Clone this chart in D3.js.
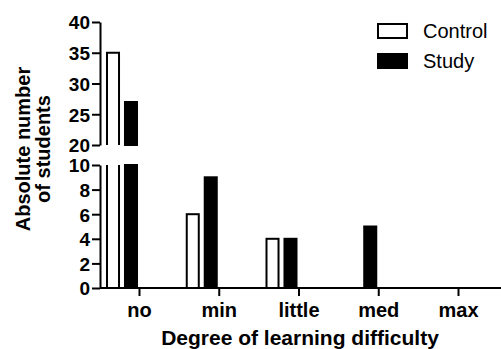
<!DOCTYPE html>
<html>
<head>
<meta charset="utf-8">
<script src="https://cdn.jsdelivr.net/npm/d3@7"></script>
<style>
  body { margin: 0; background: #fff; }
  text { font-family: "Liberation Sans", Arial, sans-serif; fill: #000; }
</style>
</head>
<body>
<svg id="chart" width="501" height="349"></svg>
<script>
// data
const categories = ['no', 'min', 'little', 'med', 'max'];
const seriesNames = ['Control', 'Study'];
const controlValues = [35, 6, 4, 0, 0];
const studyValues = [27, 9, 4, 5, 0];
const upperTicks = [20, 25, 30, 35, 40];
const lowerTicks = [0, 2, 4, 6, 8, 10];

const svg = d3.select('#chart');

// broken y axis: two segments
const yUpper = d3.scaleLinear().domain([20, 40]).range([145, 22]);
const yLower = d3.scaleLinear().domain([0, 10]).range([288, 165]);
const axisX = 100;

const x = d3.scalePoint().domain(categories).range([139, 458]);
// bars sit to the left of each tick
const xSeries = d3.scaleBand().domain(seriesNames).range([-33, -1]).paddingInner(0.22);

const series = [
  { name: 'Control', values: controlValues, fill: '#fff' },
  { name: 'Study', values: studyValues, fill: '#000' }
];

// bars
series.forEach(s => {
  const g = svg.append('g');
  s.values.forEach((v, i) => {
    if (v <= 0) return;
    const x0 = x(categories[i]) + xSeries(s.name) + 1;
    const x1 = x0 + xSeries.bandwidth() - 2;
    if (v > 10) {
      // lower piece, open at the top
      g.append('path')
        .attr('d', `M${x0},${yLower(10)}V${yLower(0)}H${x1}V${yLower(10)}` + (s.fill === '#000' ? 'Z' : ''))
        .attr('fill', s.fill).attr('stroke', '#000').attr('stroke-width', 2);
      // upper piece, open at the bottom
      g.append('path')
        .attr('d', `M${x0},${yUpper(20)}V${yUpper(v)}H${x1}V${yUpper(20)}` + (s.fill === '#000' ? 'Z' : ''))
        .attr('fill', s.fill).attr('stroke', '#000').attr('stroke-width', 2);
    } else {
      g.append('rect')
        .attr('x', x0).attr('y', yLower(v))
        .attr('width', x1 - x0).attr('height', yLower(0) - yLower(v))
        .attr('fill', s.fill).attr('stroke', '#000').attr('stroke-width', 2);
    }
  });
});

// y axes
function yAxis(scale, ticks) {
  const g = svg.append('g').attr('transform', `translate(${axisX},0)`)
    .call(d3.axisLeft(scale).tickValues(ticks).tickSize(8).tickPadding(2).tickSizeOuter(0));
  g.select('.domain').attr('stroke-width', 2);
  g.selectAll('.tick line').attr('stroke-width', 2);
  g.selectAll('.tick text')
    .style('font-size', '19px').style('font-weight', 'bold')
    .attr('dy', '0.36em');
  return g;
}
yAxis(yUpper, upperTicks);
yAxis(yLower, lowerTicks);

// x axis
const xa = svg.append('g').attr('transform', `translate(0,${yLower(0)})`)
  .call(d3.axisBottom(x).tickSize(8).tickSizeOuter(0));
xa.select('.domain').attr('d', `M${axisX},0H501`).attr('stroke-width', 2);
xa.selectAll('.tick line').attr('stroke-width', 2);
xa.selectAll('.tick text')
  .attr('y', 29).attr('dy', null)
  .style('font-size', '20px').style('font-weight', 'bold');

// axis titles
svg.append('text')
  .attr('transform', 'translate(30,149) rotate(-90)')
  .attr('text-anchor', 'middle')
  .style('font-size', '20px').style('font-weight', 'bold')
  .text('Absolute number');
svg.append('text')
  .attr('transform', 'translate(50,149) rotate(-90)')
  .attr('text-anchor', 'middle')
  .style('font-size', '20px').style('font-weight', 'bold')
  .text('of students');

svg.append('text')
  .attr('x', 300).attr('y', 345)
  .attr('text-anchor', 'middle')
  .style('font-size', '21px').style('font-weight', 'bold')
  .text('Degree of learning difficulty');

// legend
const legend = svg.append('g').attr('transform', 'translate(378,24)');
series.forEach((s, i) => {
  const row = legend.append('g').attr('transform', `translate(0,${i * 30})`);
  row.append('rect')
    .attr('x', 0).attr('y', 0).attr('width', 29).attr('height', 14)
    .attr('fill', s.fill).attr('stroke', '#000').attr('stroke-width', 2);
  row.append('text')
    .attr('x', 45).attr('y', 14)
    .style('font-size', '20px')
    .text(s.name);
});
</script>
</body>
</html>
